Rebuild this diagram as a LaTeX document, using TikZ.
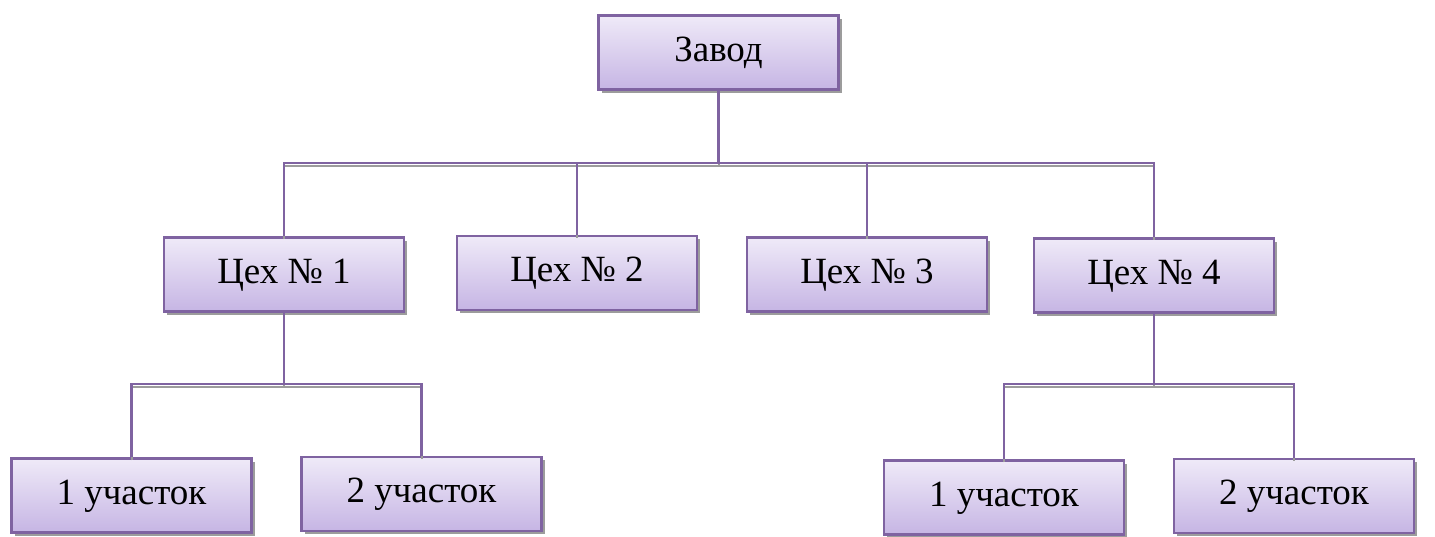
\documentclass[tikz,border=0pt]{standalone}
\usepackage{fontspec}
\setmainfont{Liberation Serif}
\usetikzlibrary{shadows}
\definecolor{boxline}{HTML}{7F63A1}
\definecolor{boxtop}{HTML}{EFEAF8}
\definecolor{boxbot}{HTML}{C6B5E4}
\definecolor{shadowgray}{HTML}{9C9C9C}
\tikzset{
  orgbox/.style={draw=boxline, line width=2.4pt, top color=boxtop, bottom color=boxbot,
    minimum width=240pt, minimum height=74pt, inner sep=0pt,
    text height=26pt, text depth=9pt,
    font=\fontsize{37}{40}\selectfont,
    drop shadow={shadow xshift=3pt, shadow yshift=-3pt, fill=shadowgray, opacity=1}},
  conn/.style={draw=boxline, line width=2.2pt,
    preaction={draw=shadowgray, line width=2pt, transform canvas={yshift=-3pt}}},
}
\begin{document}
\begin{tikzpicture}[x=1pt,y=-1pt]
\useasboundingbox (0,0) rectangle (1435,536);
\fill[white] (0,0) rectangle (1435,536);
\coordinate (bus0) at (0,163);
\coordinate (bus1) at (0,384);
\node[orgbox] (zavod) at (718.5,52.5) {Завод};
\node[orgbox] (c1) at (284,274.5) {Цех № 1};
\node[orgbox] (c2) at (577,273) {Цех № 2};
\node[orgbox] (c3) at (867,274.5) {Цех № 3};
\node[orgbox] (c4) at (1154,275.5) {Цех № 4};
\node[orgbox] (u11) at (131.5,495.5) {1 участок};
\node[orgbox] (u12) at (421.5,494) {2 участок};
\node[orgbox] (u41) at (1004,497.5) {1 участок};
\node[orgbox] (u42) at (1294,496) {2 участок};
% top level
\draw[conn] (zavod.south) -- (zavod.south |- bus0);
\draw[conn] (c1.north) -- (c1.north |- bus0) -- (c4.north |- bus0) -- (c4.north);
\draw[conn] (c2.north |- bus0) -- (c2.north);
\draw[conn] (c3.north |- bus0) -- (c3.north);
% Цех 1 branch
\draw[conn] (c1.south) -- (c1.south |- bus1);
\draw[conn] (u11.north) -- (u11.north |- bus1) -- (u12.north |- bus1) -- (u12.north);
% Цех 4 branch
\draw[conn] (c4.south) -- (c4.south |- bus1);
\draw[conn] (u41.north) -- (u41.north |- bus1) -- (u42.north |- bus1) -- (u42.north);
\end{tikzpicture}
\end{document}
